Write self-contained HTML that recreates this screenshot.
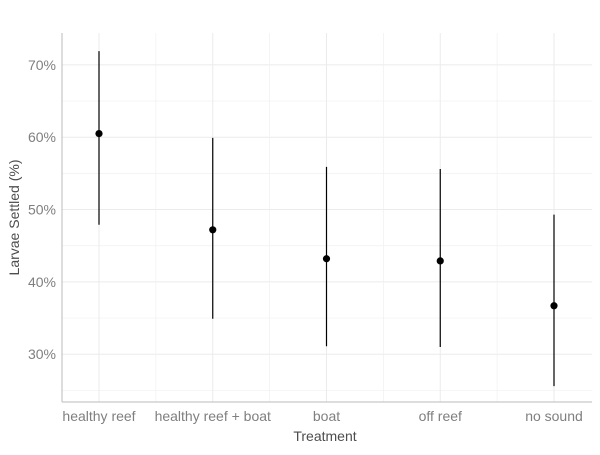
<!DOCTYPE html>
<html><head><meta charset="utf-8"><style>
body{margin:0;background:#fff;font-family:"Liberation Sans",sans-serif}
</style></head><body>
<svg id="c" width="600" height="450" xmlns="http://www.w3.org/2000/svg"></svg>
<script>
const categories=["healthy reef","healthy reef + boat","boat","off reef","no sound"];
const means=[60.5,47.2,43.2,42.9,36.7];
const lows=[47.9,34.9,31.1,31.0,25.6];
const highs=[71.9,59.9,55.9,55.6,49.3];
const yTicks=[30,40,50,60,70];
const yTickLabels=["30%","40%","50%","60%","70%"];
const yMinor=[25,35,45,55,65];
const svg=document.getElementById('c');
const NS="http://www.w3.org/2000/svg";
const L=62,R=592,T=33,B=402,ymin=23.4,ymax=74.4;
const y=v=>B-(v-ymin)/(ymax-ymin)*(B-T);
const x=i=>99+113.75*i;
function mk(t,a,p){const e=document.createElementNS(NS,t);for(const k in a)e.setAttribute(k,a[k]);(p||svg).appendChild(e);return e;}
const grid=mk('g',{});


yMinor.forEach(v=>mk('line',{x1:L,x2:R,y1:y(v),y2:y(v),stroke:'#f0f0f0','stroke-width':0.7},grid));
yTicks.forEach(v=>mk('line',{x1:L,x2:R,y1:y(v),y2:y(v),stroke:'#ebebeb','stroke-width':1},grid));
for(let i=0;i<categories.length-1;i++){const xm=(x(i)+x(i+1))/2;mk('line',{x1:xm,x2:xm,y1:T,y2:B,stroke:'#f0f0f0','stroke-width':0.7},grid);}
categories.forEach((c,i)=>mk('line',{x1:x(i),x2:x(i),y1:T,y2:B,stroke:'#ebebeb','stroke-width':1},grid));
const ax=mk('line',{x1:L,x2:L,y1:T,y2:B,stroke:'#bbb','stroke-width':1});


const bx=mk('line',{x1:L,x2:R,y1:B,y2:B,stroke:'#bbb','stroke-width':1});


yTicks.forEach((v,i)=>{const t=mk('text',{x:L-6,y:y(v)+5,'text-anchor':'end','font-size':14,fill:'#7f7f7f'});t.textContent=yTickLabels[i];

});
categories.forEach((c,i)=>{const t=mk('text',{x:x(i),y:B+19,'text-anchor':'middle','font-size':14,fill:'#7f7f7f'});t.textContent=c;


const l=mk('line',{x1:x(i),x2:x(i),y1:y(highs[i]),y2:y(lows[i]),stroke:'#000','stroke-width':1.2});


const p=mk('circle',{cx:x(i),cy:y(means[i]),r:3.6,fill:'#000'});

});
const xt=mk('text',{x:325,y:441,'text-anchor':'middle','font-size':14,fill:'#4d4d4d'});xt.textContent='Treatment';


const yt=mk('text',{x:0,y:0,transform:`translate(19,${(T+B)/2}) rotate(-90)`,'text-anchor':'middle','font-size':14,fill:'#4d4d4d'});yt.textContent='Larvae Settled (%)';


</script>
</body></html>
